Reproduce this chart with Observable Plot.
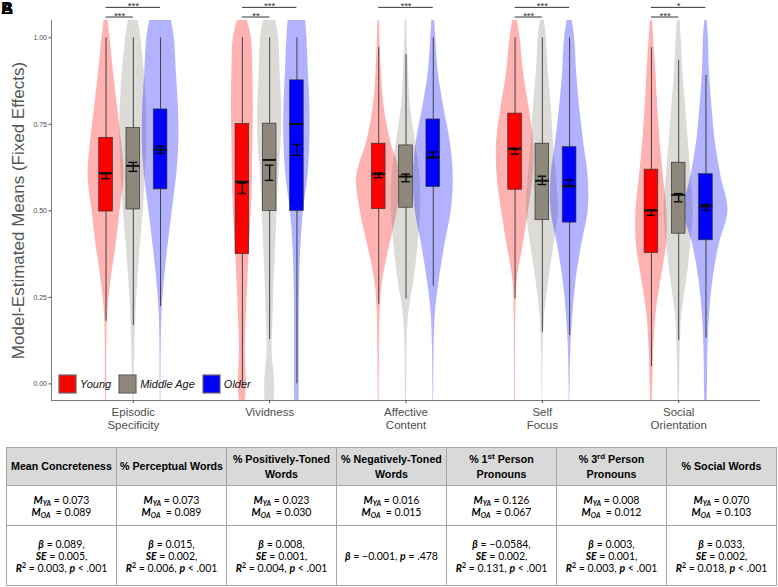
<!DOCTYPE html>
<html><head><meta charset="utf-8">
<script src="https://cdn.jsdelivr.net/npm/d3@7"></script>
<script src="https://cdn.jsdelivr.net/npm/@observablehq/plot@0.6"></script>
<style>
body{margin:0;background:#fff;font-family:"Liberation Sans",Arial,sans-serif;}
#wrap{position:relative;width:778px;height:587px;overflow:hidden;background:#fff;}
#chart{position:absolute;left:0;top:0;}
.panel{position:absolute;left:1px;top:-1px;font:bold 17px "Liberation Sans",Arial,sans-serif;color:#000;}
#legend{position:absolute;left:59px;top:375px;}
#legend > div{min-height:0 !important;margin:0 !important;font:italic 11px "Liberation Sans",Arial,sans-serif !important;color:#111 !important;display:flex !important;align-items:center !important;}
#legend > div > span{margin-right:8px !important;display:inline-flex !important;align-items:center !important;font-style:italic !important;}
#legend > div > span > svg{margin-right:4px !important;}
#legend rect{stroke:#666;stroke-width:1.2;}
table{position:absolute;left:6px;top:447px;border-collapse:collapse;table-layout:fixed;width:771px;}
td,th{border:1px solid #a6a6a6;text-align:center;vertical-align:middle;padding:0;color:#000;}
th{background:#d9d9d9;font:bold 10.7px/15px "Liberation Sans",Arial,sans-serif;}
td{font:10.5px/12px Lato,"Liberation Sans",sans-serif;}
tr.h{height:38px;} tr.m{height:40px;} tr.s{height:60px;}
sub{font-size:7px;vertical-align:-2px;line-height:0;}
sup{font-size:7px;vertical-align:4px;line-height:0;}
th sup{font-size:8px;}
</style></head>
<body><div id="wrap"><div id="chart"></div><div class="panel">A</div><div class="panel">B</div><div id="legend"></div></div>
<script>
// ---------------- data ----------------
const categories = ["Episodic\nSpecificity", "Vividness", "Affective\nContent", "Self\nFocus", "Social\nOrientation"];
const groups = ["Young", "Middle Age", "Older"];
const groupColors = ["#ff0000", "#8e877b", "#0000ff"];

// violin density profiles (relative widths) at these value levels
const densityLevels = [-0.05, 0, 0.1, 0.2, 0.3, 0.4, 0.5, 0.6, 0.7, 0.8, 0.9, 1.0, 1.05];
const youngDensity = [
  [0.5, 0.7, 0.8, 1.5, 5, 10, 14, 18, 15.5, 11.5, 7.5, 4, 2],
  [3, 4, 3, 4, 5.5, 7, 9, 10, 10.5, 11, 10.5, 9, 5],
  [0.4, 0.6, 0.8, 1.4, 4, 11, 18.5, 22, 12, 5.5, 2.7, 1.3, 0.8],
  [0.3, 0.4, 0.5, 0.8, 2.2, 8, 13.5, 18, 18.5, 14, 8.5, 5, 2.5],
  [0.8, 1.3, 2.3, 4.5, 9.5, 15, 15.5, 12, 8.7, 6.3, 4.5, 2.2, 1.2]
];
const middleDensity = [
  [0.5, 0.8, 1.5, 2.5, 4.5, 7, 10, 12, 13.5, 13, 11, 7.5, 5],
  [4.5, 5, 2.5, 3.5, 4.5, 6, 7.5, 9, 11.5, 12, 10.5, 9, 6],
  [0.5, 0.7, 1, 2.5, 8, 12, 14.5, 14, 9.5, 4.5, 2.5, 1.2, 0.8],
  [0.3, 0.4, 0.8, 2.3, 6.5, 11.5, 16, 14, 11, 9, 6, 4, 2],
  [0.5, 1, 1.5, 3.2, 8, 12, 14.5, 12.5, 9.5, 7, 4.2, 2.5, 1.5]
];
const olderDensity = [
  [0.3, 0.4, 0.6, 1.3, 3.8, 7.5, 11.7, 16, 18.3, 17.8, 15.8, 13.7, 10.8],
  [2.2, 2.3, 2.3, 2.4, 2.8, 4, 6.5, 11, 13, 13, 11.5, 10, 8.8],
  [0.2, 0.4, 0.8, 2, 6, 11.5, 18, 20, 17, 10.5, 5, 2.5, 1.5],
  [0.3, 0.5, 1.2, 3.2, 6.5, 12, 18.5, 18.5, 14, 10, 7, 5, 2.5],
  [1.2, 1.5, 2, 3.5, 7, 13, 22, 15, 9.3, 6, 3.5, 2.5, 1.2]
];

// boxplot statistics [group][category]
const boxQ1 = [
  [0.498, 0.375, 0.505, 0.561, 0.378],
  [0.504, 0.500, 0.509, 0.473, 0.434],
  [0.562, 0.500, 0.569, 0.466, 0.415]
];
const boxMedian = [
  [0.609, 0.584, 0.606, 0.680, 0.501],
  [0.630, 0.647, 0.599, 0.587, 0.546],
  [0.677, 0.751, 0.654, 0.571, 0.513]
];
const boxQ3 = [
  [0.711, 0.751, 0.694, 0.781, 0.619],
  [0.739, 0.752, 0.689, 0.694, 0.639],
  [0.793, 0.877, 0.764, 0.684, 0.606]
];
const whiskerLow = [
  [0.181, 0.000, 0.230, 0.246, 0.050],
  [0.169, 0.128, 0.245, 0.149, 0.125],
  [0.224, 0.000, 0.282, 0.140, 0.132]
];
const whiskerHigh = [
  [1.000, 1.000, 0.971, 1.000, 0.971],
  [1.000, 1.000, 0.952, 1.000, 0.935],
  [1.000, 1.000, 1.000, 1.000, 0.891]
];
// model means and standard errors
const meanValue = [
  [0.600, 0.565, 0.603, 0.671, 0.495],
  [0.627, 0.610, 0.595, 0.588, 0.538],
  [0.676, 0.676, 0.662, 0.581, 0.510]
];
const meanSE = [
  [0.007, 0.015, 0.007, 0.007, 0.008],
  [0.013, 0.022, 0.011, 0.012, 0.012],
  [0.010, 0.016, 0.008, 0.008, 0.008]
];
const yTicks = [0, 0.25, 0.5, 0.75, 1];

// significance comparisons: category index, group a, group b, label, level
const comparisons = [
  {c: 0, a: 0, b: 2, label: "***", level: 1}, {c: 0, a: 0, b: 1, label: "***", level: 0},
  {c: 1, a: 0, b: 2, label: "***", level: 1}, {c: 1, a: 0, b: 1, label: "**", level: 0},
  {c: 2, a: 0, b: 2, label: "***", level: 1},
  {c: 3, a: 0, b: 2, label: "***", level: 1}, {c: 3, a: 0, b: 1, label: "***", level: 0},
  {c: 4, a: 0, b: 2, label: "*", level: 1}, {c: 4, a: 0, b: 1, label: "***", level: 0}
];

// table
const tableHeaders = ["Mean Concreteness", "% Perceptual Words", "% Positively-Toned|Words", "% Negatively-Toned|Words", "% 1st Person|Pronouns", "% 3rd Person|Pronouns", "% Social Words"];
const meanYA = ["0.073", "0.073", "0.023", "0.016", " 0.126", "0.008", "0.070"];
const meanOA = ["0.089", "0.089", "0.030", "0.015", "0.067", "0.012", "0.103"];
const betaValues = ["0.089", "0.015", "0.008", "\u22120.001", "\u22120.0584", "0.003", "0.033"];
const seValues = ["0.005", "0.002", "0.001", null, "0.002", "0.001", "0.002"];
const r2Values = ["0.003", "0.006", "0.004", null, "0.131", "0.003", "0.018"];
const pValues = ["< .001", "< .001", "< .001", "= .478", "< .001", "< .001", "< .001"];

// ---------------- layout constants ----------------
const dodge = 0.2, boxHalf = 0.05, capHalf = 0.032, violinWidthScale = 1 / 136.35;
const bracketY = [1.060, 1.088];
const pos = (ci, gi) => ci + 1 + (gi - 1) * dodge;

const densities = [youngDensity, middleDensity, olderDensity];
const violinRows = [];
const boxRows = [];
groups.forEach((g, gi) => categories.forEach((c, ci) => {
  const p = pos(ci, gi);
  densityLevels.forEach((v, k) => {
    const w = densities[gi][ci][k] * violinWidthScale;
    violinRows.push({key: gi + "-" + ci, group: g, v, x1: p - w, x2: p + w});
  });
  boxRows.push({group: g, p, q1: boxQ1[gi][ci], med: boxMedian[gi][ci], q3: boxQ3[gi][ci],
    lo: whiskerLow[gi][ci], hi: whiskerHigh[gi][ci], m: meanValue[gi][ci], se: meanSE[gi][ci]});
}));
const sigRows = comparisons.map(d => ({x1: pos(d.c, d.a), x2: pos(d.c, d.b), y: bracketY[d.level], label: d.label}));

const chart = Plot.plot({
  width: 778, height: 440,
  marginLeft: 51, marginRight: 18, marginTop: 20, marginBottom: 40,
  style: {fontFamily: "Liberation Sans, Arial, sans-serif", background: "white", overflow: "visible"},
  x: {domain: [0.4, 5.6]},
  y: {domain: [-0.048, 1.05]},
  color: {domain: groups, range: groupColors},
  marks: [
    Plot.areaX(violinRows, {y: "v", x1: "x1", x2: "x2", z: "key", fill: "group", fillOpacity: 0.3, curve: "catmull-rom", clip: true}),
    Plot.ruleX(boxRows, {x: "p", y1: "lo", y2: "hi", stroke: "#333", strokeWidth: 0.9}),
    Plot.rect(boxRows, {x1: d => d.p - boxHalf, x2: d => d.p + boxHalf, y1: "q1", y2: "q3", fill: "group", stroke: "#333", strokeWidth: 0.7}),
    Plot.ruleY(boxRows, {y: "med", x1: d => d.p - boxHalf, x2: d => d.p + boxHalf, stroke: "#111", strokeWidth: 2}),
    Plot.ruleX(boxRows, {x: "p", y1: d => d.m - d.se, y2: d => d.m + d.se, stroke: "#000", strokeWidth: 1.3}),
    Plot.ruleY(boxRows, {y: d => d.m - d.se, x1: d => d.p - capHalf, x2: d => d.p + capHalf, stroke: "#000", strokeWidth: 1.3}),
    Plot.ruleY(boxRows, {y: d => d.m + d.se, x1: d => d.p - capHalf, x2: d => d.p + capHalf, stroke: "#000", strokeWidth: 1.3}),
    Plot.ruleX([0.4], {stroke: "#7a7a7a", strokeWidth: 1}),
    Plot.ruleY([-0.048], {stroke: "#7a7a7a", strokeWidth: 1}),
    Plot.axisY({ticks: yTicks, tickFormat: d3.format(".2f"), tickSize: 2.5, tickPadding: 2, fontSize: 7, color: "#4d4d4d", label: null}),
    Plot.axisX({ticks: [1, 2, 3, 4, 5], tickFormat: i => categories[i - 1], tickSize: 3, tickPadding: 3, fontSize: 11.5, lineHeight: 1.15, color: "#4d4d4d", label: null}),
    Plot.text(["Model-Estimated Means (Fixed Effects)"], {frameAnchor: "left", textAnchor: "middle", lineAnchor: "middle", rotate: -90, dx: -33, fontSize: 17, fill: "#555"}),
    Plot.ruleY(sigRows, {y: "y", x1: "x1", x2: "x2", stroke: "#333", strokeWidth: 1}),
    Plot.text(sigRows, {x: d => (d.x1 + d.x2) / 2, y: "y", text: "label", fontSize: 9.5, dy: -1.5, fill: "#333"})
  ]
});
document.getElementById("chart").appendChild(chart);
document.getElementById("legend").appendChild(chart.legend("color", {swatchWidth: 17, swatchHeight: 18}));

// table
const fmtHeader = s => s.replace(/(\d)(st|rd)/, "$1<sup>$2</sup>").split("|").join("<br>");
const table = document.createElement("table");
let html = '<tr class="h">' + tableHeaders.map(h => `<th>${fmtHeader(h)}</th>`).join("") + "</tr>";
html += '<tr class="m">' + meanYA.map((v, i) =>
  `<td><b><i>M</i><sub><i>YA</i></sub></b> = ${v}<br><b><i>M</i><sub><i>OA</i></sub></b> &nbsp;= ${meanOA[i]}</td>`).join("") + "</tr>";
html += '<tr class="s">' + betaValues.map((b, i) => seValues[i] == null
  ? `<td><b><i>β</i></b> = ${b}, <b><i>p</i></b> ${pValues[i]}</td>`
  : `<td><b><i>β</i></b> = ${b},<br><b><i>SE</i></b> = ${seValues[i]},<br><b><i>R</i><sup>2</sup></b> = ${r2Values[i]}, <b><i>p</i></b> ${pValues[i]}</td>`).join("") + "</tr>";
table.innerHTML = html;
document.getElementById("wrap").appendChild(table);
</script></body></html>
